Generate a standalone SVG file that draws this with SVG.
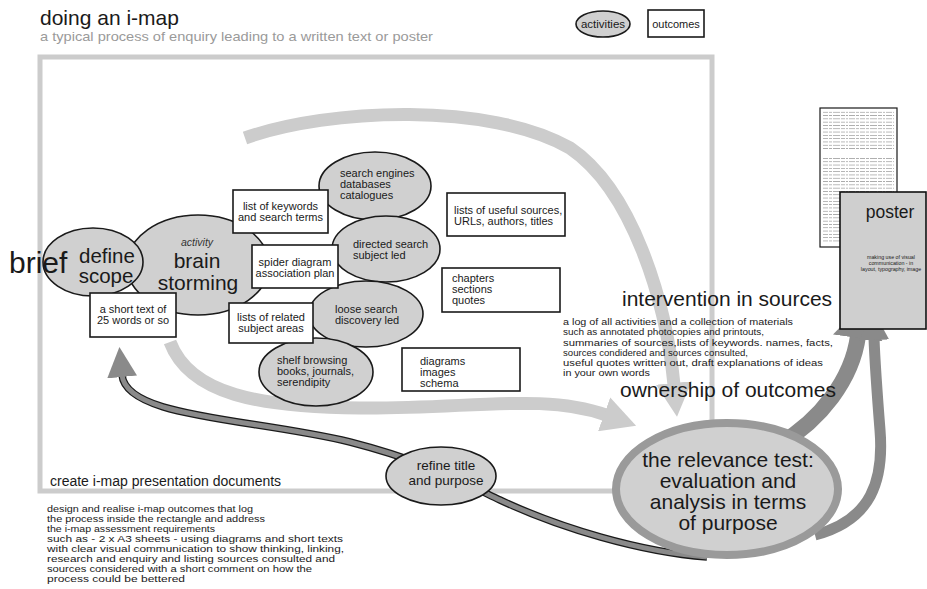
<svg xmlns="http://www.w3.org/2000/svg" width="927" height="589" viewBox="0 0 927 589">
  <defs>
    <style>
      text { font-family: "Liberation Sans", Arial, Helvetica, sans-serif; fill: #1a1a1a; }
      .act { fill: #d0d0d0; stroke: #1a1a1a; stroke-width: 1.6; }
      .out { fill: #ffffff; stroke: #1a1a1a; stroke-width: 1.6; }
      .mid { text-anchor: middle; }
      .s11 { font-size: 11px; }
      .note { font-size: 9.5px; }
      .big { font-size: 21px; }
      .flowLight { fill: none; stroke: #cccccc; stroke-width: 13; }
      .flowDark { fill: none; stroke: #8a8a8a; }
    </style>
    <marker id="headLight" viewBox="0 0 34 36" refX="2" refY="18" markerWidth="34" markerHeight="36" markerUnits="userSpaceOnUse" orient="auto">
      <path d="M0,0 L34,18 L0,36 Z" fill="#cccccc"/>
    </marker>
    <marker id="headDark" viewBox="0 0 30 30" refX="2" refY="15" markerWidth="30" markerHeight="30" markerUnits="userSpaceOnUse" orient="auto">
      <path d="M0,0 L30,15 L0,30 Z" fill="#8a8a8a"/>
    </marker>
    <marker id="headDarkWide" viewBox="0 0 34 50" refX="2" refY="25" markerWidth="34" markerHeight="50" markerUnits="userSpaceOnUse" orient="auto">
      <path d="M0,0 L34,25 L0,50 Z" fill="#8a8a8a"/>
    </marker>
    <!-- tiny set type on the written-text page -->
    <pattern id="typeLines" patternUnits="userSpaceOnUse" x="823" y="111" width="71" height="3.3">
      <path d="M0,1.2 H71" stroke="#a8a8a8" stroke-width="0.9" stroke-dasharray="5 1 3 1 7 1 4 1 2 1 6 1 3 1"/>
    </pattern>
  </defs>

  <rect width="927" height="589" fill="#ffffff"/>

  <!-- heading -->
  <text x="40" y="25" font-size="21">doing an i-map</text>
  <text x="40" y="41" font-size="13" textLength="393" lengthAdjust="spacingAndGlyphs" style="fill:#9a9a9a">a typical process of enquiry leading to a written text or poster</text>

  <!-- key -->
  <g id="key-activities">
    <ellipse class="act" cx="603" cy="24" rx="27" ry="13"/>
    <text class="mid" x="603" y="28" font-size="11.5">activities</text>
  </g>
  <g id="key-outcomes">
    <rect class="out" x="648" y="10" width="56" height="27"/>
    <text class="mid" x="676" y="28" font-size="11">outcomes</text>
  </g>

  <!-- enquiry frame -->
  <rect x="40" y="57" width="672" height="434" fill="none" stroke="#cccccc" stroke-width="5"/>

  <!-- connectors -->
  <g id="connectors">
    <path class="flowLight" d="M245,138 C330,108 490,102 570,148 C632,190 666,300 674,385" marker-end="url(#headLight)"/>
    <path class="flowLight" d="M170,342 C190,395 260,407 360,408 C470,409 545,393 606,415" marker-end="url(#headLight)"/>
    <path d="M707,557 C640,552 560,528 500,500 C450,476 420,460 350,442 C250,418 126,418 122,375" fill="none" stroke="#1a1a1a" stroke-width="7.5"/>
    <path class="flowDark" stroke-width="5" d="M707,557 C640,552 560,528 500,500 C450,476 420,460 350,442 C250,418 126,418 122,375" marker-end="url(#headDark)"/>
    <path class="flowDark" stroke-width="16" d="M780,444 C820,420 852,380 858,336" marker-end="url(#headDarkWide)"/>
    <path class="flowDark" stroke-width="11" d="M815,535 C872,520 884,480 880,430 C877,392 875,365 874,338" marker-end="url(#headDark)"/>
  </g>

  <!-- written text page -->
  <g id="written-text">
    <rect x="820" y="108" width="77" height="139" fill="#ffffff" stroke="#1a1a1a" stroke-width="1.2"/>
    <rect x="823" y="111" width="71" height="40" fill="url(#typeLines)"/>
    <rect x="823" y="157" width="71" height="86" fill="url(#typeLines)"/>
  </g>

  <g id="brain-storming">
    <ellipse class="act" cx="198" cy="265" rx="71" ry="50"/>
    <text class="mid" x="197" y="246" font-size="10.5" font-style="italic" style="fill:#333">activity</text>
    <text class="mid big" x="197" y="268">brain</text>
    <text class="mid big" x="198" y="290">storming</text>
  </g>
  <g id="define-scope">
    <ellipse class="act" cx="93" cy="262" rx="50" ry="34"/>
    <text class="mid" x="107" y="263" font-size="20.5">define</text>
    <text class="mid" x="106" y="283" font-size="20.5">scope</text>
  </g>

  <!-- brief -->
  <text x="9" y="273" font-size="30">brief</text>

  <g id="short-text">
    <rect class="out" x="90" y="293" width="86" height="44"/>
    <text class="mid s11" x="133" y="313">a short text of</text>
    <text class="mid s11" x="133" y="324">25 words or so</text>
  </g>

  <g id="search-engines">
    <ellipse class="act" cx="375" cy="186" rx="56" ry="34"/>
    <text class="s11" x="340" y="177">search engines</text>
    <text class="s11" x="340" y="188">databases</text>
    <text class="s11" x="340" y="199">catalogues</text>
  </g>
  <g id="directed-search">
    <ellipse class="act" cx="386" cy="249" rx="54" ry="33"/>
    <text class="s11" x="353" y="248">directed search</text>
    <text class="s11" x="353" y="259">subject led</text>
  </g>
  <g id="loose-search">
    <ellipse class="act" cx="366" cy="314" rx="57" ry="33"/>
    <text class="s11" x="335" y="313">loose search</text>
    <text class="s11" x="335" y="324">discovery led</text>
  </g>
  <g id="shelf-browsing">
    <ellipse class="act" cx="316" cy="372" rx="57" ry="34"/>
    <text class="s11" x="277" y="364">shelf browsing</text>
    <text class="s11" x="277" y="375">books, journals,</text>
    <text class="s11" x="277" y="386">serendipity</text>
  </g>

  <g id="keywords">
    <rect class="out" x="233" y="190" width="95" height="43"/>
    <text class="mid s11" x="280.5" y="210">list of keywords</text>
    <text class="mid s11" x="280.5" y="221">and search terms</text>
  </g>
  <g id="spider-diagram">
    <rect class="out" x="252" y="245" width="86" height="43"/>
    <text class="mid s11" x="295" y="266">spider diagram</text>
    <text class="mid s11" x="295" y="277">association plan</text>
  </g>
  <g id="related-areas">
    <rect class="out" x="229" y="303" width="84" height="40"/>
    <text class="mid s11" x="271" y="321">lists of related</text>
    <text class="mid s11" x="271" y="332">subject areas</text>
  </g>
  <g id="useful-sources">
    <rect class="out" x="447" y="193" width="118" height="43"/>
    <text class="s11" x="454" y="214">lists of useful sources,</text>
    <text class="s11" x="454" y="225">URLs, authors, titles</text>
  </g>
  <g id="chapters">
    <rect class="out" x="442" y="268" width="118" height="44"/>
    <text class="s11" x="452" y="282">chapters</text>
    <text class="s11" x="452" y="293">sections</text>
    <text class="s11" x="452" y="304">quotes</text>
  </g>
  <g id="diagrams">
    <rect class="out" x="402" y="348" width="118" height="43"/>
    <text class="s11" x="420" y="365">diagrams</text>
    <text class="s11" x="420" y="376">images</text>
    <text class="s11" x="420" y="387">schema</text>
  </g>

  <g id="refine-title">
    <ellipse class="act" cx="441" cy="476" rx="55" ry="29"/>
    <text class="mid" x="446" y="470" font-size="13.5">refine title</text>
    <text class="mid" x="446" y="485" font-size="13.5">and purpose</text>
  </g>

  <g id="relevance-test">
    <ellipse cx="727" cy="489" rx="111" ry="66" fill="#d0d0d0" stroke="#9a9a9a" stroke-width="8"/>
    <text class="mid big" x="728" y="467">the relevance test:</text>
    <text class="mid big" x="728" y="488">evaluation and</text>
    <text class="mid big" x="728" y="509">analysis in terms</text>
    <text class="mid big" x="728" y="530">of purpose</text>
  </g>

  <g id="poster">
    <rect x="840" y="192" width="86" height="137" fill="#cfcfcf" stroke="#111111" stroke-width="1.6"/>
    <text class="mid" x="890" y="218" font-size="17.5">poster</text>
    <text class="mid" x="891" y="259" font-size="5.3">making use of visual</text>
    <text class="mid" x="891" y="265" font-size="5.3">communication - in</text>
    <text class="mid" x="891" y="271" font-size="5.3">layout, typography, image</text>
  </g>

  <!-- sources and outcomes notes -->
  <text x="622" y="306" font-size="21">intervention in sources</text>
  <g class="note">
    <text x="563" y="325" textLength="230" lengthAdjust="spacingAndGlyphs">a log of all activities and a collection of materials</text>
    <text x="563" y="335" textLength="201" lengthAdjust="spacingAndGlyphs">such as annotated photocopies and printouts,</text>
    <text x="563" y="345.5" textLength="270" lengthAdjust="spacingAndGlyphs">summaries of sources,lists of keywords. names, facts,</text>
    <text x="563" y="355.5" textLength="185" lengthAdjust="spacingAndGlyphs">sources condidered and sources consulted,</text>
    <text x="563" y="366" textLength="260" lengthAdjust="spacingAndGlyphs">useful quotes written out, draft explanations of ideas</text>
    <text x="563" y="376" textLength="87" lengthAdjust="spacingAndGlyphs">in your own words</text>
  </g>
  <text x="620" y="397" font-size="21">ownership of outcomes</text>

  <!-- presentation documents -->
  <text x="50" y="486" font-size="14">create i-map presentation documents</text>
  <g class="note">
    <text x="47" y="512" textLength="206" lengthAdjust="spacingAndGlyphs">design and realise i-map outcomes that log</text>
    <text x="47" y="522" textLength="218" lengthAdjust="spacingAndGlyphs">the process inside the rectangle and address</text>
    <text x="47" y="532" textLength="168" lengthAdjust="spacingAndGlyphs">the i-map assessment requirements</text>
    <text x="47" y="542" textLength="296" lengthAdjust="spacingAndGlyphs">such as - 2 x A3 sheets - using diagrams and short texts</text>
    <text x="47" y="552" textLength="297" lengthAdjust="spacingAndGlyphs">with clear visual communication to show thinking, linking,</text>
    <text x="47" y="562" textLength="288" lengthAdjust="spacingAndGlyphs">research and enquiry and listing sources consulted and</text>
    <text x="47" y="572" textLength="265" lengthAdjust="spacingAndGlyphs">sources considered with a short comment on how the</text>
    <text x="47" y="582" textLength="138" lengthAdjust="spacingAndGlyphs">process could be bettered</text>
  </g>
</svg>
